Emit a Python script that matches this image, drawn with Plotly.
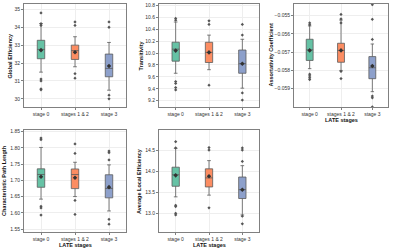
import plotly.graph_objects as go

stages = ["stage 0", "stages 1 & 2", "stage 3"]
colors = ["#66c2a5", "#fc8d62", "#8da0cb"]

# Per metric: q1, median, q3, lower whisker, upper whisker, mean, outliers
metrics = ["Global Efficiency", "Transitivity", "Assortativity Coefficient",
           "Characteristic Path Length", "Average Local Efficiency"]

ge_q1 = [32.24, 32.20, 31.23]
ge_med = [32.76, 32.69, 31.70]
ge_q3 = [33.27, 33.00, 32.50]
ge_lo = [31.49, 31.79, 30.48]
ge_hi = [34.20, 33.47, 33.15]
ge_mean = [32.72, 32.60, 31.83]
ge_out = [[34.8, 34.2, 34.1, 31.1, 31.0, 30.55, 30.5], [34.3, 34.1, 31.4, 31.15], [34.3, 34.0, 30.2, 30.0]]

tr_q1 = [9.863, 9.84, 9.66]
tr_med = [10.064, 10.01, 9.82]
tr_q3 = [10.181, 10.18, 10.05]
tr_lo = [9.66, 9.72, 9.41]
tr_hi = [10.52, 10.30, 10.23]
tr_mean = [10.04, 10.01, 9.82]
tr_out = [[10.58, 10.55, 9.52, 9.49, 9.42, 9.38], [10.54, 10.48, 9.46], [10.48, 10.30, 9.33, 9.21]]

ac_q1 = [-0.05745, -0.05755, -0.05845]
ac_med = [-0.05687, -0.05690, -0.05785]
ac_q3 = [-0.05629, -0.05651, -0.05724]
ac_lo = [-0.05790, -0.05800, -0.05916]
ac_hi = [-0.05556, -0.05524, -0.05655]
ac_mean = [-0.05690, -0.05690, -0.05776]
ac_out = [[-0.0554, -0.0555, -0.0582, -0.0583, -0.0584, -0.0585], [-0.05493, -0.05518, -0.0554, -0.05805, -0.05844],
          [-0.0544, -0.0552, -0.0563, -0.0594, -0.0595, -0.0600]]

cp_q1 = [1.6786, 1.6745, 1.6461]
cp_med = [1.718, 1.718, 1.675]
cp_q3 = [1.7354, 1.735, 1.7171]
cp_lo = [1.6421, 1.650, 1.6057]
cp_hi = [1.8013, 1.7556, 1.7476]
cp_mean = [1.711, 1.708, 1.679]
cp_out = [[1.830, 1.825, 1.620, 1.615, 1.593], [1.812, 1.783, 1.638, 1.595], [1.790, 1.785, 1.763, 1.580, 1.565]]

le_q1 = [13.641, 13.625, 13.35]
le_med = [13.914, 13.84, 13.56]
le_q3 = [14.094, 14.055, 13.86]
le_lo = [13.39, 13.43, 12.96]
le_hi = [14.54, 14.25, 14.13]
le_mean = [13.90, 13.88, 13.56]
le_out = [[14.70, 14.55, 13.19, 13.16, 13.00, 12.96], [14.56, 14.50, 13.13], [14.55, 14.50, 14.23, 12.93, 12.75]]

ytickvals = [
    [30, 31, 32, 33, 34, 35],
    [9.2, 9.4, 9.6, 9.8, 10.0, 10.2, 10.4, 10.6, 10.8],
    [-0.059, -0.058, -0.057, -0.056, -0.055],
    [1.55, 1.60, 1.65, 1.70, 1.75, 1.80, 1.85],
    [13.0, 13.5, 14.0, 14.5],
]
yticktext = [
    ["30", "31", "32", "33", "34", "35"],
    ["9.2", "9.4", "9.6", "9.8", "10.0", "10.2", "10.4", "10.6", "10.8"],
    ["\u22120.059", "\u22120.058", "\u22120.057", "\u22120.056", "\u22120.055"],
    ["1.55", "1.60", "1.65", "1.70", "1.75", "1.80", "1.85"],
    ["13.0", "13.5", "14.0", "14.5"],
]

data = [
    (ge_q1, ge_med, ge_q3, ge_lo, ge_hi, ge_mean, ge_out),
    (tr_q1, tr_med, tr_q3, tr_lo, tr_hi, tr_mean, tr_out),
    (ac_q1, ac_med, ac_q3, ac_lo, ac_hi, ac_mean, ac_out),
    (cp_q1, cp_med, cp_q3, cp_lo, cp_hi, cp_mean, cp_out),
    (le_q1, le_med, le_q3, le_lo, le_hi, le_mean, le_out),
]

W, H = 400, 252
# panel pixel boxes: left, right, top, bottom
panels = [(24, 126, 4, 107), (159, 259, 4, 107), (294, 388, 4, 107),
          (24, 126, 130, 232), (159, 259, 130, 232)]
yranges = [[29.54, 35.3], [9.094, 10.822], [-0.0600, -0.05436], [1.5409, 1.855], [12.555, 14.977]]
ytitle_x = [9, 140, 270, 4, 139]
show_xtitle = [False, False, True, True, True]
FONT = "Liberation Sans, Arial"

fig = go.Figure()
layout = {}
annotations = []
for i, (d, (l, r, t, b)) in enumerate(zip(data, panels)):
    q1, med, q3, lo, hi, mean, outs = d
    n = "" if i == 0 else str(i + 1)
    xa, ya = "x" + n, "y" + n
    for k, s in enumerate(stages):
        fig.add_trace(go.Box(
            x=[s], q1=[q1[k]], median=[med[k]], q3=[q3[k]],
            lowerfence=[lo[k]], upperfence=[hi[k]],
            fillcolor=colors[k], line=dict(color="#5a5a5a", width=0.8),
            width=0.22, whiskerwidth=0.5, xaxis=xa, yaxis=ya,
            showlegend=False, hoverinfo="skip"))
        fig.add_trace(go.Scatter(
            x=[s] * len(outs[k]), y=outs[k], mode="markers",
            marker=dict(symbol="diamond", size=2.5, color="#555555"),
            xaxis=xa, yaxis=ya, showlegend=False, hoverinfo="skip"))
        fig.add_trace(go.Scatter(
            x=[s], y=[mean[k]], mode="markers",
            marker=dict(symbol="diamond", size=3.5, color="#333333"),
            xaxis=xa, yaxis=ya, showlegend=False, hoverinfo="skip"))
    axcommon = dict(showline=True, linecolor="#808080", linewidth=1, mirror=True,
                    showgrid=True, gridcolor="#eeeeee", gridwidth=0.6, zeroline=False,
                    ticks="outside", ticklen=2, tickcolor="#808080", automargin=False,
                    tickfont=dict(family=FONT, size=5, color="#333333"))
    layout["xaxis" + n] = dict(axcommon, domain=[l / W, r / W], anchor=ya,
                               type="category", categoryorder="array", categoryarray=stages,
                               range=[-0.5, 2.5])
    layout["yaxis" + n] = dict(axcommon, domain=[(H - b) / H, (H - t) / H], anchor=xa,
                               range=yranges[i], tickmode="array",
                               tickvals=ytickvals[i], ticktext=yticktext[i])
    annotations.append(dict(text="<b>%s</b>" % metrics[i], x=ytitle_x[i] / W, y=(H - (t + b) / 2) / H,
                            xref="paper", yref="paper", textangle=-90, showarrow=False,
                            xanchor="center", yanchor="middle",
                            font=dict(family=FONT, size=5.5, color="#111111")))
    if show_xtitle[i]:
        annotations.append(dict(text="<b>LATE stages</b>", x=((l + r) / 2) / W, y=(H - (b + 12.5)) / H,
                                xref="paper", yref="paper", showarrow=False,
                                xanchor="center", yanchor="middle",
                                font=dict(family=FONT, size=5.5, color="#111111")))

fig.update_layout(**layout)
fig.update_layout(width=W, height=H, margin=dict(l=0, r=0, t=0, b=0, autoexpand=False),
                  plot_bgcolor="white", paper_bgcolor="white",
                  boxmode="overlay", annotations=annotations)
fig.write_html("out.html", config={"displayModeBar": False},
               post_script="document.body.style.margin='0px';")
